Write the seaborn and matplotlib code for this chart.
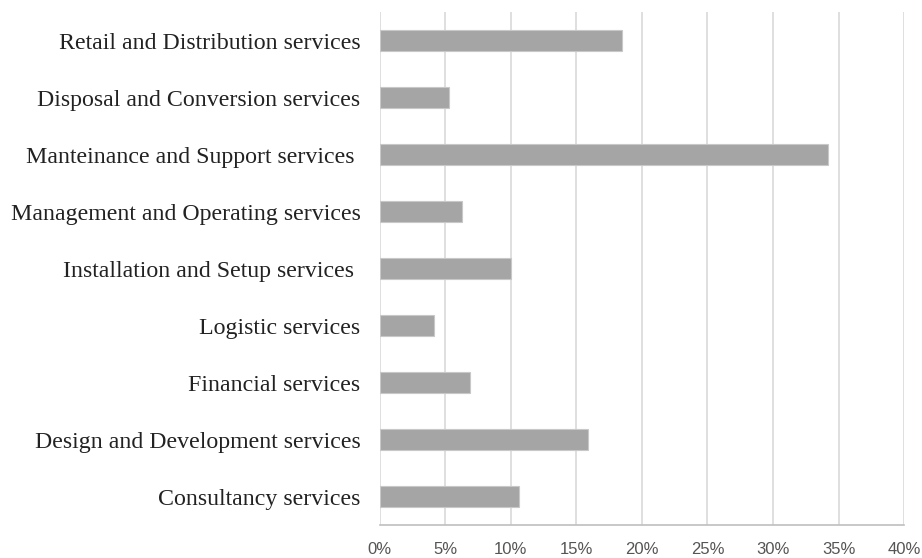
import pandas as pd
import matplotlib.pyplot as plt
import seaborn as sns

# service categories, top to bottom
services = ['Retail and Distribution services',
            'Disposal and Conversion services',
            'Manteinance and Support services ',
            'Management and Operating services',
            'Installation and Setup services ',
            'Logistic services',
            'Financial services',
            'Design and Development services',
            'Consultancy services']
# share of each service (%)
share = [18.5, 5.3, 34.2, 6.3, 10.0, 4.1, 6.9, 15.9, 10.6]
xticks = [0, 5, 10, 15, 20, 25, 30, 35, 40]
xtick_labels = ['0%', '5%', '10%', '15%', '20%', '25%', '30%', '35%', '40%']

df = pd.DataFrame({'service': services, 'share': share})

sns.set_style('white')
fig = plt.figure(figsize=(9.22, 5.58), dpi=100)
ax = fig.add_axes([0.412, 0.059, 0.5685, 0.919])

sns.barplot(data=df, x='share', y='service', orient='h', color='#a5a5a5',
            saturation=1, width=0.37, edgecolor='#c8c8c8', linewidth=0.8, ax=ax)

ax.set_xlim(0, 40)
ax.set_xticks(xticks)
ax.set_xticklabels(xtick_labels, fontfamily='Liberation Sans', fontsize=12, color='#555555')
ax.set_yticklabels(services, fontfamily='Liberation Serif', fontsize=17.2, color='#222222')
ax.set_xlabel('')
ax.set_ylabel('')
ax.xaxis.grid(True, color='#d9d9d9', linewidth=1.2)
ax.set_axisbelow(True)
for s in ['top', 'right', 'left']:
    ax.spines[s].set_visible(False)
ax.spines['bottom'].set_color('#bfbfbf')
ax.spines['bottom'].set_linewidth(1.2)
ax.tick_params(axis='both', length=0)
ax.tick_params(axis='y', pad=14)
ax.tick_params(axis='x', pad=12)

fig.savefig('out.png', dpi=100)
